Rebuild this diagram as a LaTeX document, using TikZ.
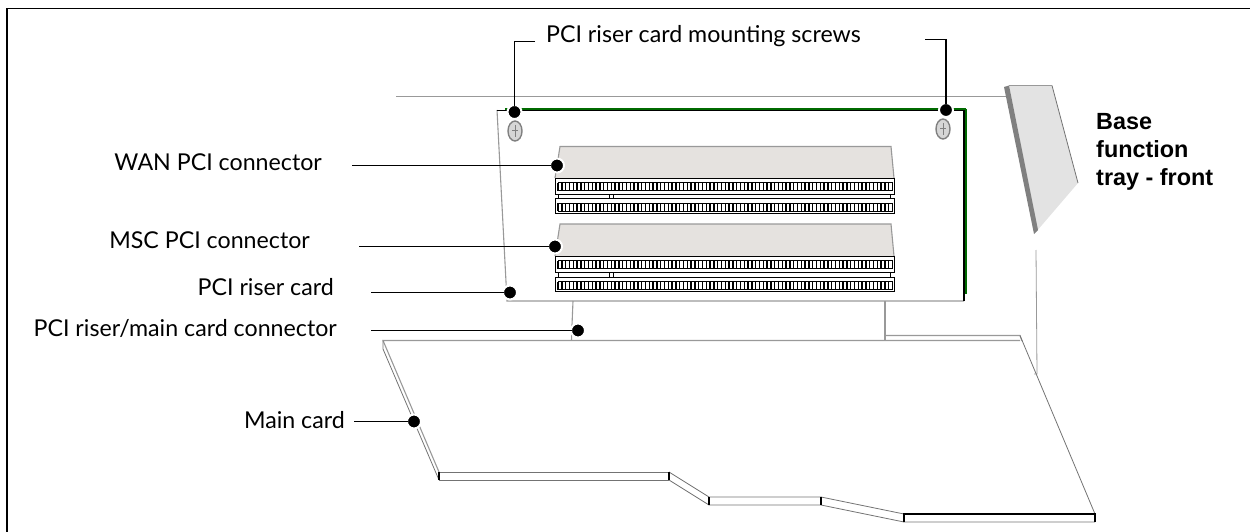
\documentclass[tikz,border=0pt]{standalone}
\usepackage{fontspec}
\setmainfont{Lato}
\newfontfamily\boldlabel{Liberation Sans}[BoldFont={Liberation Sans Bold}]
\definecolor{cardgray}{gray}{0.6}
\definecolor{lidgray}{HTML}{E5E2DF}
\definecolor{traygray}{gray}{0.89}
\definecolor{edgegreen}{HTML}{006A00}
\tikzset{
  callout/.style={anchor=base east, inner sep=0pt, font=\fontsize{23.2}{27}\selectfont},
  leader/.style={black, line width=1.05pt},
  dot/.style={circle, fill=black, draw=white, line width=2pt, minimum size=14pt, inner sep=0pt, outer sep=-1pt},
  cardline/.style={cardgray, line width=1.1pt},
  thinline/.style={black!55, line width=0.8pt},
  blackline/.style={black, line width=1.2pt},
  slotbox/.style={draw=black, fill=white, line width=1pt},
  screw/.style={ellipse, draw=black!50, fill=black!16, line width=1.4pt, minimum width=14pt, minimum height=20pt, inner sep=0pt}
}
\usetikzlibrary{shapes.geometric}
\begin{document}
\begin{tikzpicture}[x=1pt,y=-1pt]
  \useasboundingbox (0,0) rectangle (1250,532);
  \draw[black, line width=1.3pt] (1250,8.5) -- (7,8.5) -- (7,532);

  % riser card
  \draw[cardline] (396,96.5) -- (1006,96.5);
  \draw[cardline] (497,110) -- (507,301) -- (964,301);
  \draw[edgegreen, line width=1.2pt] (505,109) -- (966,109);
  \draw[edgegreen, line width=2.4pt] (966,109) -- (966,294);
  \draw[blackline] (497,110.5) -- (964,110.5) -- (964,301);

  % tray front
  \fill[traygray] (1009,85.5) -- (1052,85.5) -- (1078,183) -- (1036,232) -- cycle;
  \draw[thinline] (1052,85.5) -- (1078,183);
  \draw[cardline, line width=0.7pt] (1009,85.5) -- (1052,85.5);
  \fill[black!50] (1004,87) -- (1009,85.5) -- (1038,230) -- (1034,234) -- cycle;
  \draw[cardline, line width=0.8pt] (1036,250) -- (1037,374) -- (1034,374);

  % connectors
  \foreach \ytop/\ya/\yb/\yc/\yd/\ye/\yf in {146.5/178/194/194.5/198.5/198.5/213, 224/256/272/272.5/277/277/291}{
    \fill[lidgray] (560,\ytop) -- (891,\ytop) -- (894,\ya) -- (555,\ya) -- cycle;
    \draw[cardline] (555,\ya) -- (560,\ytop) -- (891,\ytop) -- (894,\ya);
    \draw[slotbox] (555,\ya) rectangle (894,\yb);
    \draw[slotbox] (555,\ye) rectangle (894,\yf);
    \draw[slotbox] (558,\yc) rectangle (609.5,\yd);
    \draw[slotbox] (613,\yc) rectangle (890,\yd);
    \foreach \ybar in {\ya,\ye}{
      \draw[black, line width=1pt] (558,\ybar+4.5) rectangle (892,\ybar+12.5);
      \foreach \xbar in {558,561.8,...,892}{
        \draw[black, line width=1.4pt] (\xbar,\ybar+4.5) -- (\xbar,\ybar+12.5);
      }
    }
  }

  % screws
  \node[screw] (leftscrew) at (515,131) {};
  \node[screw] (rightscrew) at (943,129) {};
  \draw[black!50, line width=1pt] (515,125) -- (515,137) (512,131) -- (518,131);
  \draw[black!50, line width=1pt] (943,123) -- (943,135) (940,129) -- (946,129);

  % main card
  \draw[cardline] (573,301) -- (572,325) -- (571.5,340.5);
  \draw[cardline] (885,301) -- (885,340.5);
  \draw[cardline] (885,335.5) -- (1020,335.5) -- (1022,341);
  \draw[cardline] (439,472) -- (383,340.5) -- (1020,340.5);
  \draw[thinline] (383,340.5) -- (383,349) -- (439,480);
  \draw[thinline] (1020,335.5) -- (1095,514);
  \draw[thinline] (669,472) -- (439,472) (439,480) -- (669,480);
  \draw[thinline] (669,472) -- (709,497) -- (821,497) -- (904,514);
  \draw[thinline] (669,480) -- (709,505) -- (821,505) -- (904,522) -- (1095,522);
  \draw[blackline] (439,472) -- (439,480) (669,472) -- (669,480) (709,497) -- (709,505) (821,497) -- (821,505);
  \draw[blackline] (904,522) -- (904,514) -- (1095,514) -- (1095,522);

  % callouts
  \node[callout] (screwslabel) at (861,43) {PCI riser card mounting screws};
  \node[callout] (wanlabel) at (322,170) {WAN PCI connector};
  \node[callout] (msclabel) at (310,248) {MSC PCI connector};
  \node[callout] (riserlabel) at (334,295) {PCI riser card};
  \node[callout] (mainconnlabel) at (337,336) {PCI riser/main card connector};
  \node[callout] (mainlabel) at (345,428) {Main card};
  \node[anchor=north west, inner sep=0pt, align=left, font=\boldlabel\bfseries\fontsize{23.4}{28}\selectfont] (traylabel) at (1096,113) {Base\\function\\tray - front};

  \node[dot] (leftscrewdot) at (514.5,112) {};
  \node[dot] (rightscrewdot) at (946,110) {};
  \node[dot] (wandot) at (557,165.5) {};
  \node[dot] (mscdot) at (555,246.5) {};
  \node[dot] (riserdot) at (510,292.5) {};
  \node[dot] (mainconndot) at (578,330.5) {};
  \node[dot] (maindot) at (414,421.5) {};

  \coordinate (leftscrewend) at (535,41.5);
  \coordinate (rightscrewend) at (925,39.5);
  \coordinate (wanend) at (352,165.5);
  \coordinate (mscend) at (359,246.5);
  \coordinate (riserend) at (371,292.5);
  \coordinate (mainconnend) at (371,330.5);
  \coordinate (mainend) at (354,421.5);

  \draw[leader] (leftscrewend) -| (leftscrewdot);
  \draw[leader] (rightscrewend) -| (rightscrewdot);
  \draw[leader] (wanend) -- (wandot);
  \draw[leader] (mscend) -- (mscdot);
  \draw[leader] (riserend) -- (riserdot);
  \draw[leader] (mainconnend) -- (mainconndot);
  \draw[leader] (mainend) -- (maindot);
\end{tikzpicture}
\end{document}
